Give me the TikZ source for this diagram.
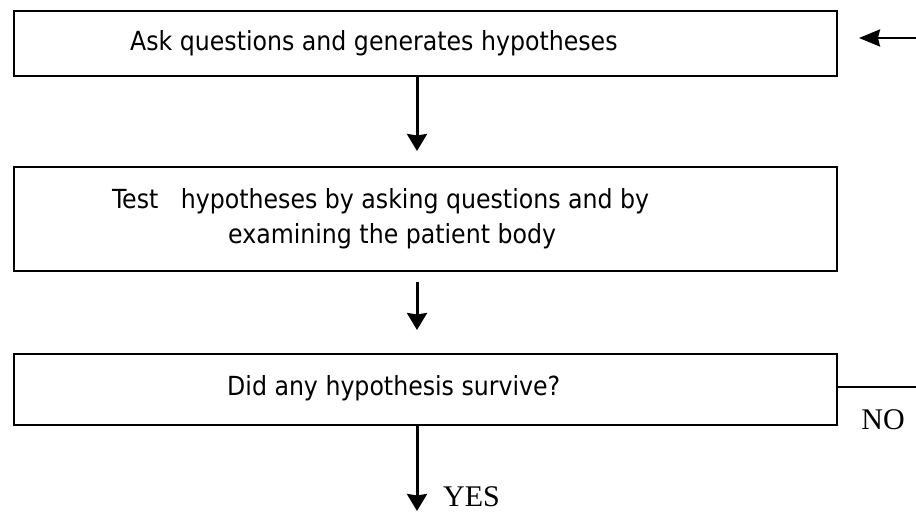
\documentclass[tikz,border=0pt]{standalone}
\usepackage{fontspec}
\setmainfont{Liberation Serif}
\newfontfamily\boxfont{DejaVu Sans Condensed}
\usetikzlibrary{arrows.meta, positioning, calc}

\tikzset{
  stepbox/.style={draw, line width=1.8pt, minimum width=823pt, inner sep=0pt, anchor=north west},
  boxtext/.style={anchor=west, inner sep=0pt, font=\boxfont\fontsize{26.3}{31}\selectfont},
  flow/.style={line width=3pt, -{Stealth[length=17pt,width=20pt,inset=1.5pt]}},
  answer/.style={inner sep=0pt, font=\fontsize{30}{36}\selectfont},
}

\begin{document}
\begin{tikzpicture}[x=1pt, y=-1pt]
    \useasboundingbox (0,0) rectangle (916,513);

    % --- Boxes ---
    \node[stepbox, minimum height=65pt]  (ask)   at (13,10)  {};
    \node[stepbox, minimum height=104pt] (test)  at (13,166) {};
    \node[stepbox, minimum height=71pt]  (probe) at (13,353) {};

    % --- Box texts ---
    \node[boxtext] (askt)   at (130,43)  {Ask questions and generates hypotheses};
    \node[boxtext] (testa)  at (112,201) {Test\ \ \ hypotheses by asking questions and by};
    \node[boxtext] (testb)  at (228,236) {examining the patient body};
    \node[boxtext] (probet) at (227,388) {Did any hypothesis survive?};

    % --- Arrow ends ---
    \coordinate (a1) at (417,151);
    \coordinate (a2s) at (417,282);
    \coordinate (a2) at (417,330);
    \coordinate (a3) at (417,511);
    \coordinate (noend) at (916,387);
    \coordinate (backs) at (916,38);
    \coordinate (backe) at (859,38);

    % --- Down arrows ---
    \draw[flow] (ask.south -| a1) -- (a1);
    \draw[flow] (a2s) -- (a2);
    \draw[flow] (probe.south -| a3) -- (a3);

    % --- NO branch and return arrow ---
    \draw[line width=1.8pt] (probe.east |- noend) -- (noend);
    \draw[line width=2.5pt, -{Stealth[length=21pt,width=17pt,inset=2pt]}] (backs) -- (backe);

    % --- Answers ---
    \node[answer] (no) at (883,420) {NO};
    \node[answer, anchor=west] (yes) at (443,497) {YES};
\end{tikzpicture}
\end{document}
